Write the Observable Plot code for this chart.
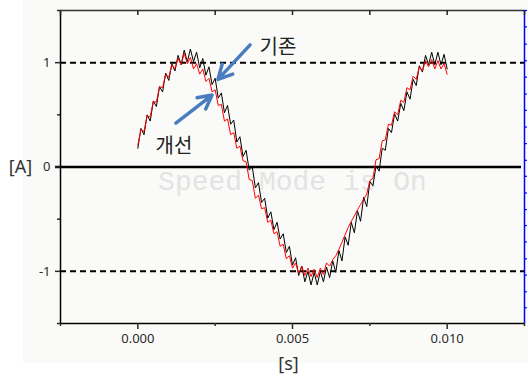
<!DOCTYPE html>
<html><head><meta charset="utf-8">
<script src="https://cdn.jsdelivr.net/npm/d3@7"></script>
<script src="https://cdn.jsdelivr.net/npm/@observablehq/plot@0.6"></script>
<style>
html,body{margin:0;padding:0;background:#fff;}
#wrap{position:relative;width:528px;height:378px;overflow:hidden;}
#bg{position:absolute;left:23px;top:0;width:505px;height:363px;background:#fafbf8;}
#chart{position:absolute;left:0;top:0;}
</style></head><body>
<div id="wrap"><div id="bg"></div><div id="chart"></div></div>
<script>
// sample times in milliseconds
const timeMs = [0,0.1,0.2,0.3,0.4,0.5,0.6,0.7,0.8,0.9,
1.0,1.1,1.2,1.3,1.4,1.5,1.6,1.7,1.8,1.9,
2.0,2.1,2.2,2.3,2.4,2.5,2.6,2.7,2.8,2.9,
3.0,3.1,3.2,3.3,3.4,3.5,3.6,3.7,3.8,3.9,
4.0,4.1,4.2,4.3,4.4,4.5,4.6,4.7,4.8,4.9,
5.0,5.1,5.2,5.3,5.4,5.5,5.6,5.7,5.8,5.9,
6.0,6.1,6.2,6.3,6.4,6.5,6.6,6.7,6.8,6.9,
7.0,7.1,7.2,7.3,7.4,7.5,7.6,7.7,7.8,7.9,
8.0,8.1,8.2,8.3,8.4,8.5,8.6,8.7,8.8,8.9,
9.0,9.1,9.2,9.3,9.4,9.5,9.6,9.7,9.8,9.9,
10.0];
// 기존 (black) current [A]
const existingA = [0.18,0.37,0.31,0.50,0.44,0.63,0.58,0.77,0.72,0.90,
0.83,0.99,0.92,1.07,0.98,1.12,1.01,1.13,1.01,1.10,
0.95,1.04,0.88,0.96,0.79,0.85,0.66,0.71,0.52,0.59,
0.41,0.45,0.24,0.29,0.10,0.16,-0.03,0.00,-0.20,-0.15,
-0.34,-0.30,-0.49,-0.43,-0.60,-0.53,-0.69,-0.64,-0.82,-0.76,
-0.94,-0.87,-1.04,-0.95,-1.10,-1.00,-1.13,-1.01,-1.13,-1.00,
-1.10,-0.96,-1.06,-0.90,-1.01,-0.80,-0.90,-0.67,-0.75,-0.53,
-0.63,-0.42,-0.52,-0.29,-0.38,-0.14,-0.18,0.01,-0.04,0.18,
0.16,0.37,0.33,0.51,0.44,0.61,0.54,0.72,0.65,0.84,
0.78,0.97,0.91,1.07,0.98,1.10,0.98,1.10,0.98,1.08,
0.94];
// 개선 (red) current [A]
const improvedA = [0.21,0.36,0.34,0.49,0.48,0.63,0.62,0.77,0.76,0.89,
0.86,0.98,0.94,1.04,0.98,1.09,0.99,1.05,0.94,0.99,
0.89,0.94,0.82,0.85,0.72,0.74,0.59,0.60,0.44,0.46,
0.31,0.33,0.18,0.20,0.06,0.05,-0.12,-0.13,-0.30,-0.27,
-0.40,-0.39,-0.53,-0.51,-0.64,-0.62,-0.76,-0.74,-0.88,-0.85,
-0.97,-0.92,-1.02,-0.95,-1.04,-0.97,-1.05,-0.98,-1.06,-0.97,
-1.03,-0.92,-0.95,-0.89,-0.85,-0.79,-0.72,-0.65,-0.58,-0.52,
-0.47,-0.41,-0.36,-0.31,-0.26,-0.13,-0.11,0.07,0.08,0.25,
0.26,0.41,0.40,0.53,0.50,0.64,0.62,0.76,0.74,0.87,
0.84,0.96,0.92,1.02,0.96,1.03,0.94,1.02,0.94,0.99,
0.89];

const xDomain = [-0.0025, 0.0125];
const yDomain = [-1.5, 1.5];
const xMajorTicks = [0, 0.005, 0.010];
const xMinorTicks = [-0.0025, 0.0025, 0.0075, 0.0125];
const xTopTicks = [-0.0025, 0, 0.0025, 0.005, 0.0075, 0.010, 0.0125];
const yMajorTicks = [-1, 0, 1];
const yMinorTicks = [-1.5, -0.5, 0.5, 1.5];
const rightTicks = [1.50, 1.343, 1.177, 1.018, 0.861, 0.699, 0.543, 0.383, 0.224, 0.064,
  -0.089, -0.249, -0.408, -0.561, -0.718, -0.880, -1.036, -1.196, -1.349];
const dashedLevels = [1, -1];
const xLabel = "[s]";
const yLabel = "[A]";
const watermark = "Speed Mode is On";
const noteLabels = ["기존", "개선"];
const noteTextT = [0.00453, 0.00117];
const noteTextV = [1.145, 0.20];
const arrowT1 = [0.00363, 0.00123];
const arrowV1 = [1.17, 0.42];
const arrowT2 = [0.00259, 0.00240];
const arrowV2 = [0.84, 0.69];

const rows = timeMs.map((ms, i) => ({t: ms / 1000, oldA: existingA[i], newA: improvedA[i]}));
const notes = noteLabels.map((label, i) => ({label, t: noteTextT[i], v: noteTextV[i]}));
const arrows = noteLabels.map((label, i) => ({x1: arrowT1[i], y1: arrowV1[i], x2: arrowT2[i], y2: arrowV2[i]}));

const plot = Plot.plot({
  width: 528, height: 378,
  marginLeft: 60, marginRight: 4, marginTop: 10, marginBottom: 55,
  style: {background: "transparent", fontFamily: "'Noto Sans', sans-serif", fontSize: "13px", color: "#2a2a2a", overflow: "visible"},
  x: {domain: xDomain, label: null},
  y: {domain: yDomain, label: null},
  marks: [
    Plot.text([watermark], {text: d => d, frameAnchor: "middle", dy: 14, fontFamily: "'Liberation Mono', 'DejaVu Sans Mono', monospace", fontSize: 28, fill: "#e3e3e3"}),
    Plot.ruleY(dashedLevels, {y: d => d, stroke: "black", strokeWidth: 2, strokeDasharray: "6,4"}),
    Plot.ruleY([0], {y: d => d, stroke: "black", strokeWidth: 2.5, insetLeft: -5, insetRight: 3}),
    Plot.line(rows, {x: "t", y: "oldA", stroke: "black", strokeWidth: 1}),
    Plot.line(rows, {x: "t", y: "newA", stroke: "#ff0000", strokeWidth: 1}),
    Plot.arrow(arrows, {x1: "x1", y1: "y1", x2: "x2", y2: "y2", stroke: "#4a7dbf", strokeWidth: 3.5, headLength: 11, headAngle: 55}),
    Plot.text(notes, {x: "t", y: "v", text: "label", fontFamily: "'Noto Sans CJK KR', sans-serif", fontSize: 20, fill: "#222"}),
    // frame lines
    Plot.ruleX([xDomain[0]], {x: d => d, stroke: "black", strokeWidth: 1.5}),
    Plot.ruleY([yDomain[0]], {y: d => d, stroke: "black", strokeWidth: 1.5}),
    Plot.ruleY([yDomain[1]], {y: d => d, stroke: "#333", strokeWidth: 1.5}),
    Plot.ruleX([xDomain[1]], {x: d => d, stroke: "blue", strokeWidth: 1.5}),
    // top inward ticks
    Plot.tickX(xTopTicks, {x: d => d, stroke: "#222", strokeWidth: 1.5, insetBottom: 308}),
    // right blue ticks
    Plot.tickY(rightTicks, {y: d => d, stroke: "blue", strokeWidth: 1.2, insetLeft: 464, insetRight: -3}),
    // axes
    Plot.axisX(xMajorTicks, {anchor: "bottom", tickSize: 6, tickPadding: 4, strokeWidth: 1.5, tickFormat: d3.format(".3f"), fontSize: 13, label: null}),
    Plot.axisX(xMinorTicks, {anchor: "bottom", tickSize: 3, strokeWidth: 1.5, tickFormat: () => "", label: null}),
    Plot.axisY(yMajorTicks, {anchor: "left", tickSize: 5, tickPadding: 5, strokeWidth: 1.5, tickFormat: d => String(d), fontSize: 13, label: null}),
    Plot.axisY(yMinorTicks, {anchor: "left", tickSize: 3, strokeWidth: 1.5, tickFormat: () => "", label: null}),
    Plot.text([yLabel], {text: d => d, frameAnchor: "left", textAnchor: "middle", lineAnchor: "middle", dx: -40, fontSize: 18, fill: "#333"}),
    Plot.text([xLabel], {text: d => d, frameAnchor: "bottom", textAnchor: "middle", lineAnchor: "middle", dx: -4, dy: 41, fontSize: 18, fill: "#333"})
  ]
});
document.getElementById("chart").appendChild(plot);
</script>
</body></html>
